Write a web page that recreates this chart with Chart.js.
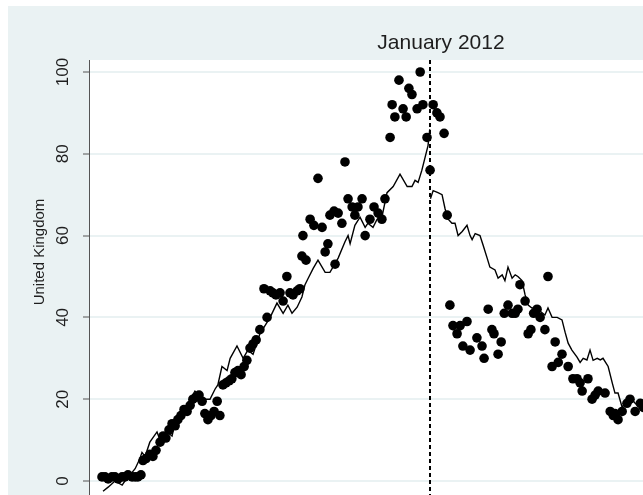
<!DOCTYPE html>
<html>
<head>
<meta charset="utf-8">
<title>United Kingdom</title>
<script src="https://cdn.jsdelivr.net/npm/chart.js@4/dist/chart.umd.min.js"></script>
<style>
  html, body { margin: 0; padding: 0; background: #ffffff; }
  #wrap { width: 643px; height: 495px; }
</style>
</head>
<body>
<div id="wrap"><canvas id="chart" width="643" height="495"></canvas></div>
<script>
// Weekly index (week 0 = first observation); the policy change falls at week 96.
const breakWeek = 96;
const breakLabel = 'January 2012';
const axisTitle = 'United Kingdom';
const yTicks = [0, 20, 40, 60, 80, 100];

// Observed weekly values (dots)
const dotWeeks = [
  0, 0.9, 1.8, 2.9, 3.8, 4.7, 5.9, 6.7, 7.6, 8.8, 9.7, 10.5, 11.4,
  12.0, 12.9, 14.0, 14.9, 15.8, 17.0, 17.9, 18.7, 19.6, 20.5, 21.4, 22.2, 23.1, 24.0,
  24.9, 25.8, 26.6, 27.5, 28.4, 29.3, 30.1, 31.0, 31.9, 32.8, 33.7, 34.5, 35.4, 36.3,
  37.2, 38.0, 38.9, 39.8, 40.7, 41.6, 42.4, 43.3, 44.2, 45.1, 46.2, 47.4, 48.3, 49.2,
  50.0, 50.9, 52.1, 53.0, 54.1, 55.0, 55.9, 57.1, 57.9,
  58.5, 58.8, 59.7, 60.9, 62.0, 63.2, 64.4, 65.3, 66.1, 66.7, 67.9, 68.2, 69.1, 70.2,
  71.1, 72.0, 73.2, 74.0, 74.9, 76.1, 77.0, 78.4, 79.6, 80.8, 81.9, 82.8, 84.3, 84.9,
  85.7, 86.9, 88.1, 89.0, 89.8, 90.7, 92.2, 93.1, 93.9, 95.1, 96.0, 96.9, 98.0, 98.9,
  100.1, 101.0,
  101.8, 102.7, 103.9, 104.8, 105.6, 106.8, 107.7, 109.7, 111.2, 111.8, 113.0, 114.1,
  114.7, 115.9, 116.8, 117.7, 118.8, 120.0, 120.9, 121.7, 122.3, 123.8, 124.7, 125.5,
  126.3, 127.3, 128.2, 129.6, 130.5, 131.7, 132.6, 133.5, 134.6, 136.4, 137.8, 139.0,
  139.9, 140.5, 142.2, 143.4, 144.3, 145.2, 147.2, 148.7, 149.6, 150.1, 151.0, 152.2,
  153.6, 154.5, 156.0, 157.5, 158.4
];
const dotValues = [
  1, 1, 0.5, 1, 1, 0.5, 1, 1, 1.5, 1, 1, 1, 1.5,
  5, 5.5, 6.5, 6, 7.5, 9.5, 11, 10.5, 12.5, 14, 13.5, 15, 16, 17.5,
  17, 18.5, 20, 20.5, 21, 19.5, 16.5, 15, 16, 17, 19.5, 16, 23.5, 24,
  24.5, 25, 26.5, 27, 26, 28, 29.5, 32.5, 33.5, 34.5, 37, 47, 40, 46.5,
  46, 45.5, 46, 44, 50, 46, 45.5, 46.5, 47,
  55, 60, 54, 64, 62.5, 74, 62, 56, 58, 65, 66, 53, 65.5, 63,
  78, 69, 67, 65, 67, 69, 60, 64, 67, 65.5, 64, 69, 84, 92,
  89, 98, 91, 89, 96, 94.5, 91, 100, 92, 84, 76, 92, 90, 89,
  85, 65,
  43, 38, 36, 38, 33, 39, 32, 35, 33, 30, 42, 37,
  36, 31, 34, 41, 43, 41, 41, 42, 48, 44, 36, 37,
  41, 42, 40, 37, 50, 28, 34, 29, 31, 28, 25, 25,
  24, 22, 25, 20, 21, 22, 21.5, 17, 16, 16.5, 15, 17,
  19, 20, 17, 19, 18
];

// Fitted / smoothed weekly series (line), broken at the policy date
const lineWeeks = [
  0.3, 1.8, 3.8, 5.9, 6.7, 8.2, 9.7, 11.1, 11.7, 12.6, 14.0, 16.1, 17.0, 19.0, 20.5,
  21.9, 23.7, 25.2, 27.2, 29.0, 30.1, 31.6, 33.1, 33.9, 35.1, 36.6, 37.5, 39.5, 41.3,
  42.7, 44.2, 46.2, 47.7, 49.2, 51.2, 53.0, 54.4, 55.6, 57.1, 58.5, 59.4, 60.3, 61.8,
  63.2, 65.3, 66.7, 69.1, 71.1, 72.0, 72.6, 74.0, 75.5, 77.0, 77.8, 79.3, 80.5, 81.9,
  83.4, 85.2, 87.2, 89.3, 90.7, 91.6, 92.5, 93.6, 94.5, 95.4, 95.9,
  96.0,
  96.1, 96.9, 98.3, 99.5, 100.4, 101.3, 102.4, 103.3, 104.2, 105.4, 106.8, 107.7, 108.3,
  109.2, 110.6, 111.5, 112.7, 113.5, 115.0, 115.9, 117.1, 117.9, 118.8, 120.0, 120.9,
  121.7, 122.9, 123.8, 124.7, 125.8, 127.3, 128.5, 129.6, 130.5, 131.7, 133.2, 134.6,
  135.5, 136.4, 137.5, 139.0, 139.9, 140.8, 141.9, 142.8, 143.7, 144.9, 145.8, 146.6,
  148.1, 149.3, 150.1, 151.0, 152.2, 153.1, 154.5, 156.0, 157.5, 158.9
];
const lineValues = [
  -2.5, -1.5, 0, -1, 0, 1.5, 3, 5.5, 7, 6, 9.5, 12, 10, 12, 11,
  16, 16.5, 19, 22, 20.5, 20, 20, 22.5, 23.5, 28, 27, 30, 33, 30,
  32, 31, 36, 38, 40, 43.5, 41, 43, 41, 42.5, 45, 48, 49.5, 52,
  54, 51, 51, 54.5, 58.5, 60, 58, 62.5, 64.5, 62, 63, 62, 64, 64.5,
  70.5, 72, 75, 72, 72, 73.5, 73, 76, 79, 82, 86,
  null,
  69, 71, 70.5, 70, 66.5, 64, 63, 63, 60, 61, 62.5, 60, 59,
  60.5, 60, 57.7, 54.5, 52.3, 51.6, 49.6, 50.4, 49, 52.3, 49.6, 50.4,
  50, 49, 45.5, 43, 42.3, 42.3, 41.3, 40.6, 42.3, 40, 40, 39.4,
  36.4, 33.7, 32, 30.3, 29, 30, 29.6, 32, 29.5, 30, 29.6, 30,
  28, 24, 21.5, 21.5, 18, 19.3, 20.5, 19, 18, 17
];

const FONT = '"Liberation Sans", Arial, Helvetica, sans-serif';
const REGION_BG = '#eaf2f3';

// Graph region, plot region, reference line and rotated axis text
const stataFrame = {
  id: 'stataFrame',
  beforeDraw(chart) {
    const { ctx, chartArea: a, width, height } = chart;
    ctx.save();
    ctx.fillStyle = '#ffffff';
    ctx.fillRect(0, 0, width, height);
    ctx.fillStyle = REGION_BG;
    ctx.fillRect(8, 6, width - 8, height - 6);
    ctx.fillStyle = '#ffffff';
    ctx.fillRect(a.left, a.top, width - a.left, height - a.top);
    ctx.restore();
  },
  beforeDatasetsDraw(chart) {
    const { ctx, chartArea: a, scales, height } = chart;
    const x = Math.round(scales.x.getPixelForValue(breakWeek));
    ctx.save();
    ctx.strokeStyle = '#000000';
    ctx.lineWidth = 2;
    ctx.setLineDash([4, 3]);
    ctx.beginPath();
    ctx.moveTo(x, a.top);
    ctx.lineTo(x, height);
    ctx.stroke();
    ctx.restore();
  },
  afterDraw(chart) {
    const { ctx, scales } = chart;
    const y = scales.y;
    ctx.save();
    ctx.fillStyle = '#1e1e1e';
    // rotated tick labels
    ctx.font = '17px ' + FONT;
    ctx.textAlign = 'center';
    ctx.textBaseline = 'middle';
    yTicks.forEach(v => {
      ctx.save();
      ctx.translate(63, y.getPixelForValue(v));
      ctx.rotate(-Math.PI / 2);
      ctx.fillText(String(v), 0, 0);
      ctx.restore();
    });
    // axis title
    ctx.font = '15px ' + FONT;
    ctx.save();
    ctx.translate(40, 252);
    ctx.rotate(-Math.PI / 2);
    ctx.fillText(axisTitle, 0, 0);
    ctx.restore();
    // label of the reference line
    ctx.font = '21px ' + FONT;
    ctx.fillText(breakLabel, 441, 43);
    ctx.restore();
  }
};

new Chart(document.getElementById('chart'), {
  type: 'scatter',
  data: {
    datasets: [
      {
        type: 'line',
        data: lineWeeks.map((w, i) => ({ x: w, y: lineValues[i] })),
        borderColor: '#000000',
        borderWidth: 1.4,
        pointRadius: 0,
        tension: 0,
        spanGaps: false,
        fill: false
      },
      {
        type: 'scatter',
        data: dotWeeks.map((w, i) => ({ x: w, y: dotValues[i] })),
        backgroundColor: '#000000',
        borderColor: '#000000',
        borderWidth: 0,
        pointRadius: 4.8
      }
    ]
  },
  options: {
    responsive: false,
    animation: false,
    devicePixelRatio: 1,
    layout: { autoPadding: false, padding: { top: 60, left: 0, right: 0, bottom: 0 } },
    plugins: { legend: { display: false }, tooltip: { enabled: false } },
    scales: {
      x: { type: 'linear', min: -3.8, max: 158.3, display: false },
      y: {
        type: 'linear',
        min: -3.42,
        max: 102.93,
        afterBuildTicks: s => { s.ticks = yTicks.map(v => ({ value: v })); },
        afterFit: s => { s.width = 89; s.paddingTop = 0; s.paddingBottom = 0; },
        ticks: { display: false, font: { size: 1 } },
        grid: {
          color: REGION_BG,
          lineWidth: 2,
          drawTicks: true,
          tickLength: 6,
          tickColor: '#555555',
          tickWidth: 1
        },
        border: { display: true, color: '#555555', width: 1 }
      }
    }
  },
  plugins: [stataFrame]
});
</script>
</body>
</html>
